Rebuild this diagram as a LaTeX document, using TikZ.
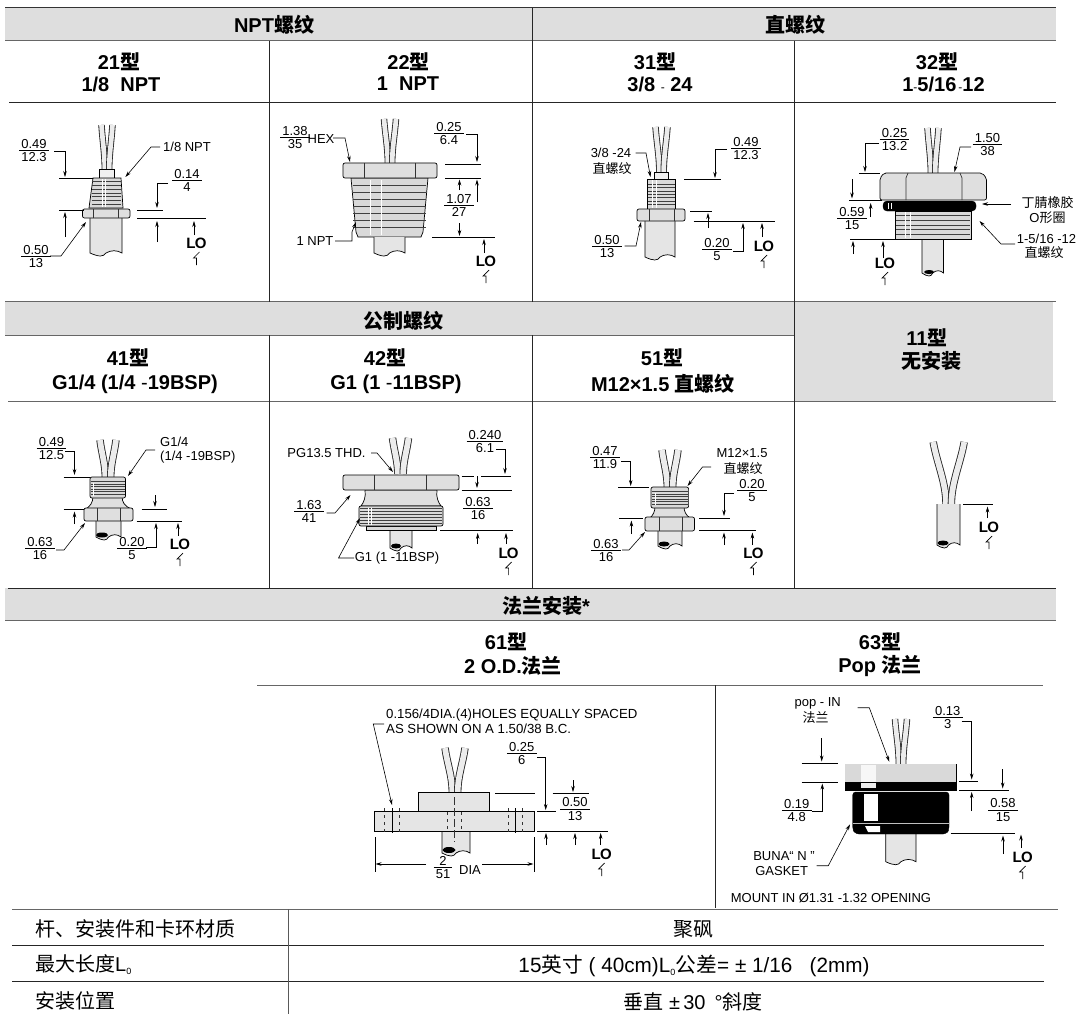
\documentclass[tikz,border=0pt]{standalone}
\usepackage{fontspec}
\setmainfont{Liberation Sans}
\newfontfamily\cjkf{Noto Sans CJK SC}
\usetikzlibrary{arrows.meta}
\newcommand\zh[1]{{\cjkf #1}}
\newcommand\fr[2]{\begin{tabular}{@{\,}c@{\,}}\rule{0pt}{9.5pt}#1\\[-2pt]\hline \rule{0pt}{11pt}#2\end{tabular}}
\tikzset{
 dimln/.style={line width=.6pt,black},
 dimar/.style={line width=.6pt,black,-{Stealth[length=6pt,width=3.5pt]}},
 partf/.style={fill=gray!30,draw=black,line width=.7pt},
 lab/.style={inner sep=0pt,align=center,font=\fontsize{13}{13}\selectfont},
 lonode/.style={inner sep=0pt,font=\fontsize{15}{15}\selectfont\bfseries},
 head/.style={inner sep=0pt,align=center,font=\fontsize{20}{23}\selectfont\bfseries},
 rowt/.style={inner sep=0pt,font=\fontsize{20}{22}\selectfont},
 band/.style={fill=black!13,draw=none},
 gline/.style={line width=1pt,black!60},
 vline/.style={line width=.8pt,black!85},
 thread/.style={line width=.9pt,black!75},
 hilite/.style={line width=1pt,white},
}
\newcommand\lbl[4]{\node[lab] (#1) at (#2,#3) {#4};}
\newcommand\frc[5]{\node[lab] (#1) at (#2,#3) {\fr{#4}{#5}};}
\newcommand\lomark[3]{\node[lonode] (#1) at (#2,#3) {L\kern-.8pt O};
 \draw[line width=.7pt,black] (#2+3,#3+9) -- (#2-3,#3+15) -- (#2,#3+15) -- (#2,#3+22);}
% cx halfspread top bottom width
\newcommand\wires[5]{%
 \pgfmathsetmacro\myWa{#1-#2+#5/2}\pgfmathsetmacro\myWb{#1+#2-#5/2}%
 \pgfmathsetmacro\myWc{#1-#5/2+.3}\pgfmathsetmacro\myWd{#1+#5/2-.3}%
 \pgfmathsetmacro\myYq{#3+.35*(#4-#3)}\pgfmathsetmacro\myYr{#3+.65*(#4-#3)}%
 \pgfmathsetmacro\myWe{\myWa+.3*(\myWc-\myWa)}\pgfmathsetmacro\myWf{\myWb+.3*(\myWd-\myWb)}%
 \pgfmathsetmacro\myWo{#5+1.4}\pgfmathsetmacro\myWi{#5-.3}%
 \draw[line width=\myWo pt,black!85] (\myWa,#3) .. controls (\myWe,\myYq) and (\myWc,\myYr) .. (\myWc,#4);
 \draw[line width=\myWi pt,gray!15] (\myWa,#3) .. controls (\myWe,\myYq) and (\myWc,\myYr) .. (\myWc,#4);
 \draw[line width=\myWo pt,black!85] (\myWb,#3) .. controls (\myWf,\myYq) and (\myWd,\myYr) .. (\myWd,#4);
 \draw[line width=\myWi pt,gray!15] (\myWb,#3) .. controls (\myWf,\myYq) and (\myWd,\myYr) .. (\myWd,#4);
}
% x1 x2 ytop ybot
\newcommand\stem[4]{%
 \pgfmathsetmacro\mySw{#2-#1}\pgfmathsetmacro\mySa{#1+.28*\mySw}\pgfmathsetmacro\mySb{#1+.42*\mySw}%
 \pgfmathsetmacro\mySc{#1+.5*\mySw}\pgfmathsetmacro\mySd{#1+.65*\mySw}\pgfmathsetmacro\mySe{#1+.85*\mySw}%
 \pgfmathsetmacro\myYa{#4+4}\pgfmathsetmacro\myYb{#4-3}%
 \draw[partf,fill=gray!20] (#1,#3) -- (#1,#4) .. controls (\mySa,\myYa) and (\mySb,\myYa) .. (\mySc,#4) .. controls (\mySd,\myYb) and (\mySe,\myYb) .. (#2,#4) -- (#2,#3);
}
\newcommand\blob[4]{\fill[black] (#1,#2) ellipse[x radius=#3,y radius=#4];}
% x1 x2 y1 y2 v1 v2
\newcommand\hexn[6]{%
 \draw[partf,fill=gray!25,rounded corners=2pt] (#1,#3) rectangle (#2,#4);
 \draw[line width=.7pt,black!80] (#5,#3) -- (#5,#4) (#6,#3) -- (#6,#4);
}
% x1 x2 y1 y2 n
\newcommand\thr[5]{%
 \foreach \i in {1,...,#5}{\pgfmathsetmacro\myYt{#3+(#4-#3)*\i/(#5+1)}\draw[thread] (#1,\myYt) -- (#2,\myYt);}
}
\newcommand\streak[3]{\draw[hilite] (#1,#2) -- (#1,#3);}
\begin{document}
\begin{tikzpicture}[x=1pt,y=-1pt]
\useasboundingbox (0,0) rectangle (1079,1014);
\fill[white] (0,0) rectangle (1079,1014);
% bands
\fill[band] (5,8) rectangle (1056,41);
\fill[band] (5,302) rectangle (794,335);
\fill[band] (794,302) rectangle (1053,402);
\fill[band] (5,588) rectangle (1056,621);
% rules
\draw[line width=1pt,black!80] (5,7.5) -- (1056,7.5);
\draw[gline] (5,41) -- (1056,41);
\draw[line width=.8pt,black!85] (9,102) -- (1056,102);
\draw[gline] (5,301.7) -- (1056,301.7);
\draw[gline] (5,335) -- (794,335);
\draw[gline] (8,401.7) -- (1056,401.7);
\draw[line width=1pt,black!85] (8,588.3) -- (1056,588.3);
\draw[gline] (5,620.7) -- (1056,620.7);
\draw[gline] (257,685) -- (1043,685);
\draw[gline] (12,909) -- (1058,909);
\draw[line width=.8pt,black!85] (12,945) -- (1044,945) (12,981) -- (1044,981);
\draw[vline] (532.5,8) -- (532.5,41) (269.3,41) -- (269.3,302) (532.5,41) -- (532.5,302) (794,41) -- (794,302);
\draw[vline] (269.3,335) -- (269.3,588) (532.5,335) -- (532.5,588) (794,302) -- (794,588);
\draw[vline] (715,685) -- (715,908);
\draw[line width=.8pt,black!65] (288,909) -- (288,1014);
% headings
\node[head] (hA) at (274,25) {NPT\zh{螺纹}};
\node[head] (hB) at (795,25) {\zh{直螺纹}};
\node[head] (h21) at (119,62) {21\zh{型}};
\node[head] (h21b) at (121,84) {1/8\ \ NPT};
\node[head] (h22) at (408.5,62) {22\zh{型}};
\node[head] (h22b) at (408,84) {1\ \ NPT};
\node[head] (h31) at (655,62) {31\zh{型}};
\node[head] (h31b) at (660,84) {3/8 {\mdseries\fontsize{12}{12}\selectfont -} 24};
\node[head] (h32) at (937,62) {32\zh{型}};
\node[head] (h32b) at (943.5,84) {1{\mdseries\fontsize{12}{12}\selectfont -}5/16{\mdseries\fontsize{12}{12}\selectfont\,-}12};
\node[head] (hC) at (403,321) {\zh{公制螺纹}};
\node[head] (h41) at (128,358) {41\zh{型}};
\node[head] (h41b) at (135,384) {G1/4 (1/4 {\mdseries -}19BSP)};
\node[head] (h42) at (385,358) {42\zh{型}};
\node[head] (h42b) at (396,384) {G1 (1 {\mdseries -}11BSP)};
\node[head] (h51) at (662,358) {51\zh{型}};
\node[head] (h51b) at (663,384) {M12×1.5 \zh{直螺纹}};
\node[head] (h11) at (927,338) {11\zh{型}};
\node[head] (h11b) at (931,361) {\zh{无安装}};
\node[head] (hD) at (546,606) {\zh{法兰安装}*};
\node[head] (h61) at (506,642) {61\zh{型}};
\node[head] (h61b) at (513,666) {2 O.D.\zh{法兰}};
\node[head] (h63) at (880,642) {63\zh{型}};
\node[head] (h63b) at (880,666) {Pop \zh{法兰}};
% bottom table
\node[rowt,anchor=west] (r1) at (35,929) {\zh{杆、安装件和卡环材质}};
\node[rowt,anchor=west] (r2) at (35,965) {\zh{最大长度}L\textsubscript{\fontsize{9}{9}\selectfont 0}};
\node[rowt,anchor=west] (r3) at (35,1001) {\zh{安装位置}};
\node[rowt] (c1) at (693.5,929) {\zh{聚砜}};
\node[rowt,font=\fontsize{20.7}{22}\selectfont] (c2) at (694,966) {15\zh{英寸} (\ 40cm)L\textsubscript{\fontsize{9}{9}\selectfont 0}\zh{公差}=\ ±\ 1/16\ \ \ (2mm)};
\node[rowt] (c3) at (693,1001.5) {\zh{垂直} ±\,30 \,°\zh{斜度}};

% ---------- 21
\wires{107}{8}{125}{170}{5}
\draw[partf,fill=gray!12] (99,169) rectangle (114,178);
\draw[partf] (93,178) -- (89,208) -- (123,208) -- (121,178) -- cycle;
\thr{91.5}{121}{178}{208}{7}
\streak{102}{179}{207}\streak{105}{179}{207}
\stem{90}{122}{218}{253}
\hexn{82.5}{130}{209}{218}{93.5}{118.5}
\draw[dimln] (59,178) -- (93,178) (59,210) -- (84,210) (137,210) -- (163,210) (137,218) -- (206,218);
\frc{f21a}{34}{152}{0.49}{12.3}
\draw[dimar] (54,151) -- (65,151) -- (65,177);
\lbl{t21a}{187}{147}{1/8 NPT}
\draw[dimar] (160,147) -- (151,147) -- (125.4,177);
\frc{f21b}{36}{258}{0.50}{13}
\draw[dimar] (50,256) -- (61,256) -- (86,222);
\frc{f21c}{187}{182}{0.14}{4}
\draw[dimar] (168,183) -- (157,183) -- (157,208);
\draw[dimar] (65,237) -- (65,212);
\draw[dimar] (157,242) -- (157,221);
\draw[dimar] (194,235) -- (194,221);
\lomark{lo21}{196.5}{243}

% ---------- 22
\wires{390}{8.5}{119}{163}{5}
\draw[partf] (351,178) -- (356,232) -- (358,237) -- (421,237) -- (423,232) -- (428,178) -- cycle;
\thr{353}{426}{178}{234}{7}
\streak{370}{180}{235}\streak{381}{180}{235}
\stem{374}{405}{237}{253}
\hexn{343}{437}{163}{178}{364}{415}
\draw[dimln] (445,164) -- (481,164) (445,178) -- (481,178) (432,237) -- (495,237);
\frc{f22a}{295}{139}{1.38}{35}
\lbl{t22a}{321}{139}{HEX}
\draw[dimar] (333,138) -- (345,138) -- (350,162);
\frc{f22b}{449}{135}{0.25}{6.4}
\draw[dimar] (466,134) -- (477,134) -- (477,162);
\frc{f22c}{459}{207}{1.07}{27}
\draw[dimar] (459.5,190) -- (459.5,179.5);
\draw[dimar] (477,202) -- (477,179.5);
\draw[dimar] (459.5,223) -- (459.5,236);
\draw[dimar] (484,253) -- (484,239);
\lomark{lo22}{486}{261}
\lbl{t22b}{315}{241}{1 NPT}
\draw[dimar] (335,241) -- (352,241) -- (352,232) -- (356,222);

% ---------- 31
\wires{661.5}{8.5}{127}{172}{5}
\draw[partf,fill=gray!12] (654,172) rectangle (668.5,179);
\draw[partf] (647,179) rectangle (675.5,209);
\thr{648}{675}{181}{208}{7}
\streak{652}{180}{208}\streak{656}{180}{208}
\stem{645}{675}{221}{257}
\hexn{637}{685}{209}{221}{649}{674}
\draw[dimln] (684,179.5) -- (721,179.5) (690,211) -- (712,211) (693.5,221) -- (775,221);
\lbl{t31a}{611}{153}{3/8 -24}
\lbl{t31b}{612}{169}{\zh{直螺纹}}
\draw[dimar] (635.5,153) -- (646,153) -- (650.5,177);
\frc{f31a}{746}{150}{0.49}{12.3}
\draw[dimar] (727,149) -- (715,149) -- (715,178);
\draw[dimar] (708,228) -- (708,213);
\frc{f31b}{717}{251}{0.20}{5}
\draw[dimar] (733,251) -- (743,251) -- (743,223);
\draw[dimar] (762,237) -- (762,223);
\lomark{lo31}{764}{246}
\frc{f31c}{607}{248}{0.50}{13}
\draw[dimar] (624.5,246) -- (636,246) -- (641,222);

% ---------- 32
\wires{933}{8}{128}{173}{5}
\stem{922}{943.5}{236}{273}
\blob{929}{272}{5}{2}
\draw[partf] (895,211) rectangle (971,239);
\thr{896}{970}{211}{239}{5}
\streak{905}{212}{238}\streak{910}{212}{238}
\draw[fill=black,rounded corners=4pt] (883,201) rectangle (976,211);
\streak{888}{203}{209}\streak{891}{203}{209}
\draw[partf,fill=gray!25,rounded corners=2pt] (880,200) -- (880,178) -- (884,173) -- (982,173) -- (986.5,178) -- (986.5,200) -- cycle;
\draw[line width=.7pt,black!80] (908,173) -- (906,178) -- (906,200) (960,173) -- (962,178) -- (962,200);
\draw[dimln] (859,173) -- (880,173) (849,200) -- (882,200) (850,239) -- (895,239);
\frc{f32a}{894.6}{141}{0.25}{13.2}
\draw[dimar] (879,143) -- (865,143) -- (865,172);
\frc{f32b}{987.5}{146}{1.50}{38}
\draw[dimar] (971,147) -- (960,147) -- (954.5,172);
\draw[dimar] (852,179) -- (852,198.5);
\draw[dimar] (870.7,217) -- (870.7,203);
\frc{f32c}{852}{220}{0.59}{15}
\draw[dimar] (853,254) -- (853,241);
\draw[dimar] (883,258) -- (883,241);
\lomark{lo32}{885}{263}
\lbl{t32a}{1047.5}{203}{\zh{丁腈橡胶}}
\lbl{t32b}{1047.5}{218}{O\zh{形圈}}
\draw[dimar] (1011,204) -- (982,204);
\lbl{t32c}{1046.5}{239}{1-5/16 -12}
\lbl{t32d}{1044}{253}{\zh{直螺纹}}
\draw[dimar] (1015,244) -- (1001,244) -- (979.5,221);

% ---------- 41
\wires{108}{11}{440}{477}{6}
\stem{96}{121}{519}{537}
\blob{102}{535}{6}{2.5}
\draw[partf,fill=gray!25] (93,496) .. controls (93,503) and (90,506) .. (86,509) -- (131,509) .. controls (125,506) and (122,503) .. (122,496) -- cycle;
\draw[partf,rounded corners=2pt] (90,477) rectangle (125.5,498);
\thr{90.5}{125}{479}{497}{6}
\streak{93}{483}{496}
\hexn{84}{133}{508}{521}{97}{120}
\draw[dimln] (63.5,477) -- (90,477) (63.5,509) -- (84,509) (141.5,509) -- (167,509) (136.5,521) -- (181.5,521);
\frc{f41a}{51.5}{450}{0.49}{12.5}
\draw[dimar] (65,451) -- (74.5,451) -- (74.5,475);
\draw[dimar] (74.5,524) -- (74.5,511.5);
\frc{f41b}{40}{550}{0.63}{16}
\draw[dimar] (56,550) -- (64,550) -- (85,523);
\node[lab,anchor=west] (t41b) at (160,442) {G1/4};
\node[lab,anchor=west] (t41c) at (160,457) {(1/4 -19BSP)};
\draw[dimar] (155,450) -- (146,450) -- (128,476);
\frc{f41c}{132}{550}{0.20}{5}
\draw[dimar] (146,547) -- (156,547) -- (156,523);
\draw[dimar] (155,495) -- (155,507);
\draw[dimar] (178,536) -- (178,523);
\lomark{lo41}{180}{544}

% ---------- 42
\wires{400.5}{11}{438}{474}{6}
\stem{390}{412}{528}{548}
\blob{396}{546}{5}{2.5}
\draw[partf] (366,526) rectangle (436,530);
\draw[partf,fill=gray!25] (365,490) .. controls (366,497) and (364,502) .. (361,506) -- (441,506) .. controls (438,502) and (436,497) .. (437,490) -- cycle;
\draw[partf,rounded corners=2pt] (359,506) rectangle (443,526);
\thr{360}{442}{506}{526}{6}
\streak{368}{508}{525}\streak{371}{508}{525}
\hexn{343}{459}{475}{490}{374.5}{426}
\draw[dimln] (461.5,476) -- (473.5,476) (481,476) -- (511,476) (461.5,490) -- (511.5,490) (440,530.7) -- (512.7,530.7);
\lbl{t42a}{326.5}{453}{PG13.5 THD.}
\draw[dimar] (371,453) -- (377,453) -- (393,472);
\frc{f42a}{485}{443}{0.240}{6.1}
\draw[dimar] (496,449) -- (505,449) -- (505,474);
\draw[dimar] (477,476) -- (477,488);
\frc{f42b}{478}{510}{0.63}{16}
\draw[dimar] (477.7,544) -- (477.7,533);
\draw[dimar] (506,544) -- (506,533);
\lomark{lo42}{508.6}{553}
\frc{f42c}{309}{513}{1.63}{41}
\draw[dimar] (326.5,513) -- (335,513) -- (350.5,495);
\lbl{t42b}{397}{558}{G1 (1 -11BSP)}
\draw[dimar] (354,558) -- (338.5,558) -- (360,518);

% ---------- 51
\wires{670}{11}{450}{487}{6}
\stem{658}{682}{529}{546}
\blob{664}{544}{5.5}{2.5}
\draw[partf,fill=gray!25] (655,506) .. controls (655,512) and (653,515) .. (650,518) -- (690,518) .. controls (686,515) and (684,512) .. (684,506) -- cycle;
\draw[partf,rounded corners=2pt] (651,487) rectangle (688.6,508);
\thr{651.5}{688}{489}{507}{6}
\streak{655}{493}{505}
\hexn{645}{694.5}{517}{531}{659}{682}
\draw[dimln] (618,487) -- (649,487) (619,518) -- (642.5,518) (699,518) -- (730,518) (699,530) -- (756,530);
\frc{f51a}{605}{459}{0.47}{11.9}
\draw[dimar] (621,461) -- (630.7,461) -- (630.7,486);
\draw[dimar] (631.4,534) -- (631.4,520.5);
\frc{f51b}{606}{552}{0.63}{16}
\draw[dimar] (622,550) -- (629,550) -- (645,532);
\lbl{t51a}{742}{453}{M12×1.5}
\lbl{t51b}{743}{469}{\zh{直螺纹}}
\draw[dimar] (711,467) -- (702.5,467) -- (687.5,486);
\frc{f51c}{752}{492}{0.20}{5}
\draw[dimar] (734,493) -- (724,493) -- (724,516);
\draw[dimar] (724,545) -- (724,532.5);
\draw[dimar] (752.4,545) -- (752.4,532.5);
\lomark{lo51}{753.5}{553}

% ---------- 11
\wires{948.7}{18.5}{442}{504}{6}
\stem{937}{960}{504}{545}
\blob{943}{543}{5.5}{2.5}
\draw[dimln] (963,504) -- (993,504);
\draw[dimar] (987.5,518) -- (987.5,506.5);
\lomark{lo11}{989}{527}

% ---------- 61
\wires{455}{13}{748}{792}{6}
\stem{442}{470}{830}{853}
\blob{449}{850}{6.5}{3}
\draw[partf,fill=gray!20] (418,792) rectangle (489,812);
\draw[partf,fill=gray!20] (374,811.7) rectangle (534,831.7);
\foreach \hx in {384.5,399,508,522.5}{\draw[line width=.8pt,black!80,dash pattern=on 3pt off 4pt] (\hx,808) -- (\hx,834);}
\draw[line width=1pt,black] (392,808) -- (392,833);
\draw[line width=1pt,black] (515,808) -- (515,833);
\draw[line width=.7pt,black!80,dash pattern=on 8pt off 3pt] (454.5,797) -- (454.5,842);
\draw[line width=.7pt,black!80,dash pattern=on 3pt off 4pt] (447.5,812) -- (447.5,832) (461.5,812) -- (461.5,832);
\node[lab,anchor=west,align=left,font=\fontsize{13.2}{15}\selectfont] (t61a) at (386,721.5) {0.156/4DIA.(4)HOLES EQUALLY SPACED\\AS SHOWN ON A 1.50/38 B.C.};
\draw[dimar] (384,724) -- (373.3,724) -- (392,805);
\frc{f61a}{521.7}{755}{0.25}{6}
\draw[dimar] (537,757) -- (545.7,757) -- (545.7,810);
\draw[dimln] (495,793) -- (535,793) (552.7,793) -- (589,793) (537,811.7) -- (556,811.7) (537,831.7) -- (607.7,831.7);
\draw[dimar] (573,780) -- (573,792);
\frc{f61b}{575}{810.7}{0.50}{13}
\draw[dimar] (546,845) -- (546,833);
\draw[dimar] (575,845) -- (575,833);
\draw[dimar] (600.7,845) -- (600.7,833);
\lomark{lo61}{601.7}{854}
\draw[dimln] (375,837) -- (375,872) (534,837) -- (534,872);
\frc{f61c}{443}{869}{2}{51}
\lbl{t61b}{470}{870.5}{DIA}
\draw[dimar] (426,864) -- (375.5,864);
\draw[dimar] (482,864) -- (533.5,864);

% ---------- 63
\wires{901}{8.5}{719}{764}{5}
\stem{885.7}{916}{832}{861.7}
\draw[fill=black,draw=black,rounded corners=3pt] (852.7,792) -- (852.7,830) -- (856,834) -- (946,834) -- (949,830) -- (949,792) -- cycle;
\fill[white] (864,794) rectangle (878,820.7);
\draw[line width=1pt,gray!50] (852.7,823) -- (949,823);
\fill[white] (865,826) -- (880,826) -- (880,832) -- (868,832) -- cycle;
\draw[draw=black,fill=black] (845,764) rectangle (956,790);
\fill[gray!30] (845.4,764.4) rectangle (955.6,781.7);
\fill[gray!6] (860.7,765) rectangle (875.7,782);
\fill[gray!15] (860.7,783) rectangle (875.7,788);
\draw[dimln] (801.7,763) -- (838,763) (801.7,782) -- (838,782) (959,781) -- (978,781) (959,790) -- (1009,790) (950.7,833) -- (1015,833);
\lbl{t63a}{817.7}{703}{pop - IN}
\lbl{t63b}{815.7}{718}{\zh{法兰}}
\draw[dimar] (857.7,707.7) -- (869.3,707.7) -- (889.3,761.7);
\frc{f63a}{947.7}{719}{0.13}{3}
\draw[dimar] (961.7,721.7) -- (971.7,721.7) -- (971.7,779.5);
\draw[dimar] (1002.7,769) -- (1002.7,788.5);
\draw[dimar] (971.7,811) -- (971.7,792);
\frc{f63b}{1003}{811.7}{0.58}{15}
\draw[dimar] (1003,854) -- (1003,835.5);
\draw[dimar] (1021,848) -- (1021,834.5);
\lomark{lo63}{1022.7}{857}
\draw[dimar] (821.7,738) -- (821.7,761.5);
\frc{f63c}{796.7}{812}{0.19}{4.8}
\draw[dimar] (811.7,811) -- (822.3,811) -- (822.3,783.5);
\lbl{t63c}{784}{856}{BUNA“ N ”}
\lbl{t63d}{781.7}{871}{GASKET}
\draw[dimar] (816.7,865.7) -- (828.3,865.7) -- (850,824.3);
\node[lab,anchor=west] (t63e) at (730.7,898.3) {MOUNT IN Ø1.31 -1.32 OPENING};
\end{tikzpicture}
\end{document}
